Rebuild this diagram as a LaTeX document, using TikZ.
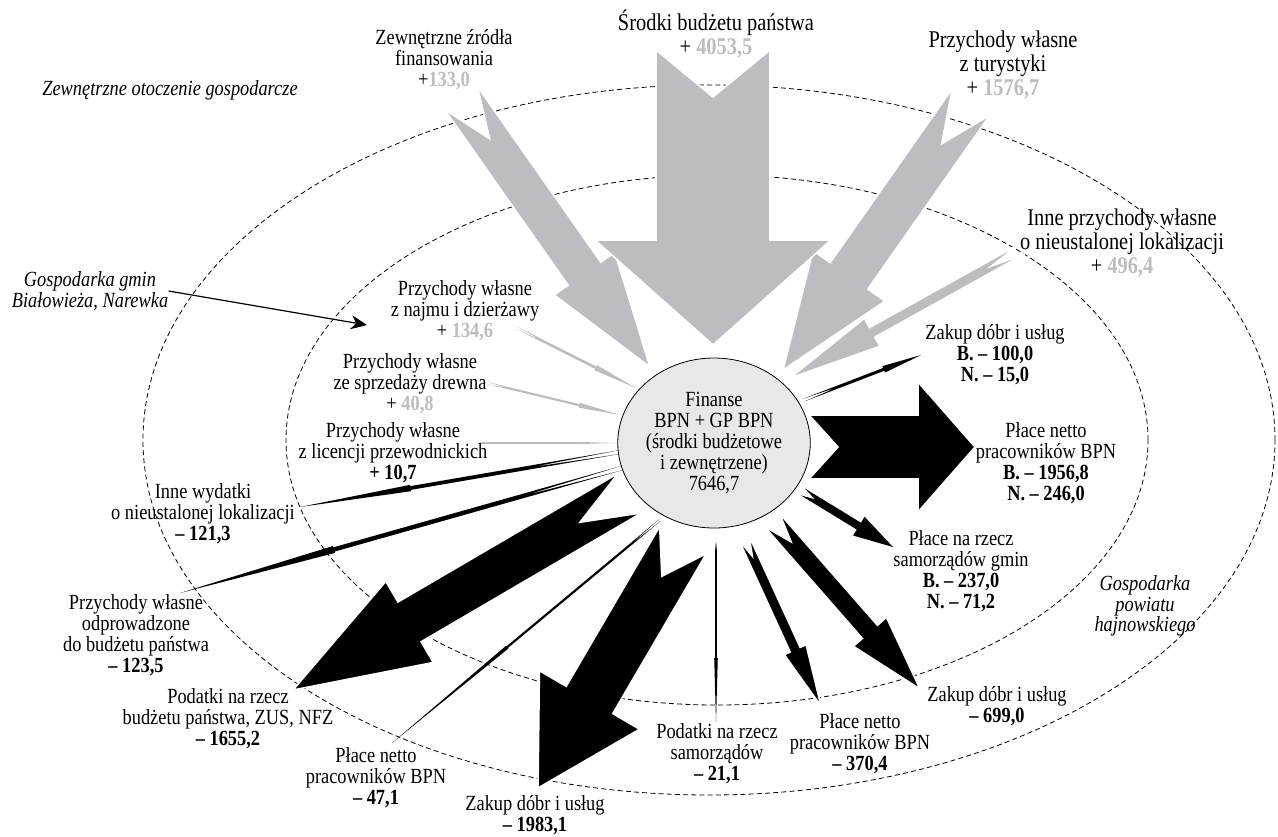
\documentclass[tikz,border=0pt]{standalone}
\usepackage{fontspec}
\setmainfont{Liberation Serif}[FakeStretch=0.85]
\usetikzlibrary{calc,shapes.geometric,arrows.meta}
\definecolor{szary}{RGB}{188,189,193}
\definecolor{jasny}{RGB}{231,232,233}
\newcommand{\kwota}[1]{\textcolor{szary}{\textbf{#1}}}
% [styl]{ogon}{grot}{pol szer. trzonu}{pol szer. grotu}{dl. grotu}{wciecie}, w px
\newcommand{\strzala}[7][]{%
  \coordinate (sb) at ($(#3)!#6*0.5pt!(#2)$);
  \coordinate (sn) at ($(#2)!#7*0.5pt!(#3)$);
  \filldraw[#1] ($(#2)!#4*0.5pt!90:(#3)$) -- ($(sb)!#4*0.5pt!90:(#3)$)
    -- ($(sb)!#5*0.5pt!90:(#3)$) -- (#3) -- ($(sb)!#5*0.5pt!-90:(#3)$)
    -- ($(sb)!#4*0.5pt!-90:(#3)$) -- ($(#2)!#4*0.5pt!-90:(#3)$) -- (sn) -- cycle;}

\begin{document}
\begin{tikzpicture}[x=0.5pt,y=-0.5pt]
	\tikzstyle{every node}+=[inner sep=0pt]
	\tikzstyle{lbl}=[align=center,font=\fontsize{10.8}{10.5}\selectfont]
	\tikzstyle{lblbig}=[align=center,font=\fontsize{12}{12.2}\selectfont]
	\tikzstyle{kursywa}=[align=center,font=\fontsize{10.8}{10.2}\selectfont\itshape]
	\tikzstyle{dochod}=[fill=szary,draw=white,line width=0.8pt]
	\tikzstyle{dochodcienki}=[fill=szary,draw=none]
	\tikzstyle{wydatek}=[fill=black,draw=white,line width=0.8pt]
	\tikzstyle{wydatekcienki}=[fill=black,draw=none]
	\tikzstyle{strefa}=[dash pattern=on 2.5pt off 1.6pt,line width=0.4pt]
	\useasboundingbox (0,0) rectangle (1278,836);
	\draw[strefa] (709,440) ellipse [x radius=283pt,y radius=177.5pt];
	\draw[strefa] (717,440) ellipse [x radius=215.5pt,y radius=132.5pt];
	% wplywy
	\coordinate (zewT) at (461,98);   \coordinate (zewH) at (650,367);
	\coordinate (sroT) at (713,50);   \coordinate (sroH) at (713,345);
	\coordinate (turT) at (971,102);  \coordinate (turH) at (783,370);
	\coordinate (innT) at (1022,249); \coordinate (innH) at (790,378);
	\coordinate (najT) at (517,328);  \coordinate (najH) at (636,388);
	\coordinate (drwT) at (487,383);  \coordinate (drwH) at (620,415);
	\coordinate (licT) at (478,443);  \coordinate (licH) at (617,443);
	\strzala[dochod]{zewT}{zewH}{20}{37}{114}{50}
	\strzala[dochod]{turT}{turH}{23}{44}{115}{51}
	\strzala[dochod]{innT}{innH}{5.5}{16}{94}{35}
	\strzala[dochod]{sroT}{sroH}{57}{118}{105}{47}
	\strzala[dochodcienki]{najT}{najH}{1.3}{2.8}{45}{25}
	\strzala[dochodcienki]{drwT}{drwH}{1.1}{2.5}{42}{20}
	\strzala[dochodcienki]{licT}{licH}{0.9}{1.1}{40}{4}
	% wydatki
	\coordinate (zk3T) at (804,400); \coordinate (zk3H) at (921,355);
	\coordinate (pn3T) at (809,447); \coordinate (pn3H) at (975,447);
	\coordinate (pgmT) at (803,492); \coordinate (pgmH) at (893,547);
	\coordinate (zk2T) at (772,520); \coordinate (zk2H) at (920,689);
	\coordinate (pn2T) at (744,538); \coordinate (pn2H) at (821,706);
	\coordinate (psaT) at (716,542); \coordinate (psaH) at (716,722);
	\coordinate (zk1T) at (683,540); \coordinate (zk1H) at (538,788);
	\coordinate (pn1T) at (660,520); \coordinate (pn1H) at (392,743);
	\coordinate (pbuT) at (630,493); \coordinate (pbuH) at (293,690);
	\coordinate (odpT) at (622,468); \coordinate (odpH) at (180,593);
	\coordinate (iwyT) at (620,452); \coordinate (iwyH) at (300,507);
	\strzala[wydatekcienki]{zk3T}{zk3H}{1.5}{3.5}{40}{35}
	\strzala[wydatek]{pn3T}{pn3H}{32}{65}{57}{29}
	\strzala[wydatekcienki]{pgmT}{pgmH}{4}{11}{40}{14}
	\strzala[wydatek]{zk2T}{zk2H}{10}{22}{76}{29}
	\strzala[wydatek]{pn2T}{pn2H}{5.5}{12}{62}{20}
	\strzala[wydatekcienki]{psaT}{psaH}{0.9}{1.8}{64}{10}
	\strzala[wydatek]{zk1T}{zk1H}{27}{58}{102}{42}
	\strzala[wydatekcienki]{pn1T}{pn1H}{1.1}{1.8}{150}{40}
	\strzala[wydatek]{pbuT}{pbuH}{23}{47}{135}{58}
	\strzala[wydatekcienki]{odpT}{odpH}{2.2}{3.6}{160}{100}
	\strzala[wydatekcienki]{iwyT}{iwyH}{1.9}{3.2}{112}{90}
	% finanse
	\node[ellipse,draw,fill=jasny,line width=0.4pt,minimum width=89pt,minimum height=85pt,lbl] (fin) at (714,443)
		{Finanse\\BPN + GP BPN\\(środki budżetowe\\i zewnętrzene)\\7646,7};
	% opisy
	\node[kursywa] (otocz) at (170,90) {Zewnętrzne otoczenie gospodarcze};
	\node[kursywa] (gmin) at (90,291) {Gospodarka gmin\\Białowieża, Narewka};
	\node[kursywa] (powiat) at (1145,606) {Gospodarka\\powiatu\\hajnowskiego};
	\coordinate (gminH) at (367,325);
	\draw[line width=0.6pt,-{Stealth[length=8pt,width=7pt,inset=2.5pt]}] (gmin.east) -- (gminH);
	\node[lbl] (zewzr) at (444,60) {Zewnętrzne źródła\\finansowania\\+\kwota{133,0}};
	\node[lblbig] (srodki) at (716,34) {Środki budżetu państwa\\+ \kwota{4053,5}};
	\node[lblbig] (tury) at (1003,65) {Przychody własne\\z turystyki\\+ \kwota{1576,7}};
	\node[lblbig] (inneprz) at (1122,243) {Inne przychody własne\\o nieustalonej lokalizacji\\+ \kwota{496,4}};
	\node[lbl] (najem) at (465,311) {Przychody własne\\z najmu i dzierżawy\\+ \kwota{134,6}};
	\node[lbl] (drewno) at (410,384) {Przychody własne\\ze sprzedaży drewna\\+ \kwota{40,8}};
	\node[lbl] (licencje) at (393,453) {Przychody własne\\z licencji przewodnickich\\\textbf{+ 10,7}};
	\node[lbl] (innewyd) at (203,514) {Inne wydatki\\o nieustalonej lokalizacji\\\textbf{– 121,3}};
	\node[lbl] (odprow) at (136,635) {Przychody własne\\odprowadzone\\do budżetu państwa\\\textbf{– 123,5}};
	\node[lbl] (podbud) at (228,719) {Podatki na rzecz\\budżetu państwa, ZUS, NFZ\\\textbf{– 1655,2}};
	\node[lbl] (placen1) at (376,778) {Płace netto\\pracowników BPN\\\textbf{– 47,1}};
	\node[lbl] (zakup1) at (535,815) {Zakup dóbr i usług\\\textbf{– 1983,1}};
	\node[lbl] (podsam) at (717,754) {Podatki na rzecz\\samorządów\\\textbf{– 21,1}};
	\node[lbl] (placen2) at (860,744) {Płace netto\\pracowników BPN\\\textbf{– 370,4}};
	\node[lbl] (zakup2) at (997,706) {Zakup dóbr i usług\\\textbf{– 699,0}};
	\node[lbl] (placegm) at (961,571) {Płace na rzecz\\samorządów gmin\\\textbf{B. – 237,0}\\\textbf{N. – 71,2}};
	\node[lbl] (placen3) at (1046,463) {Płace netto\\pracowników BPN\\\textbf{B. – 1956,8}\\\textbf{N. – 246,0}};
	\node[lbl] (zakup3) at (995,355) {Zakup dóbr i usług\\\textbf{B. – 100,0}\\\textbf{N. – 15,0}};
\end{tikzpicture}
\end{document}
